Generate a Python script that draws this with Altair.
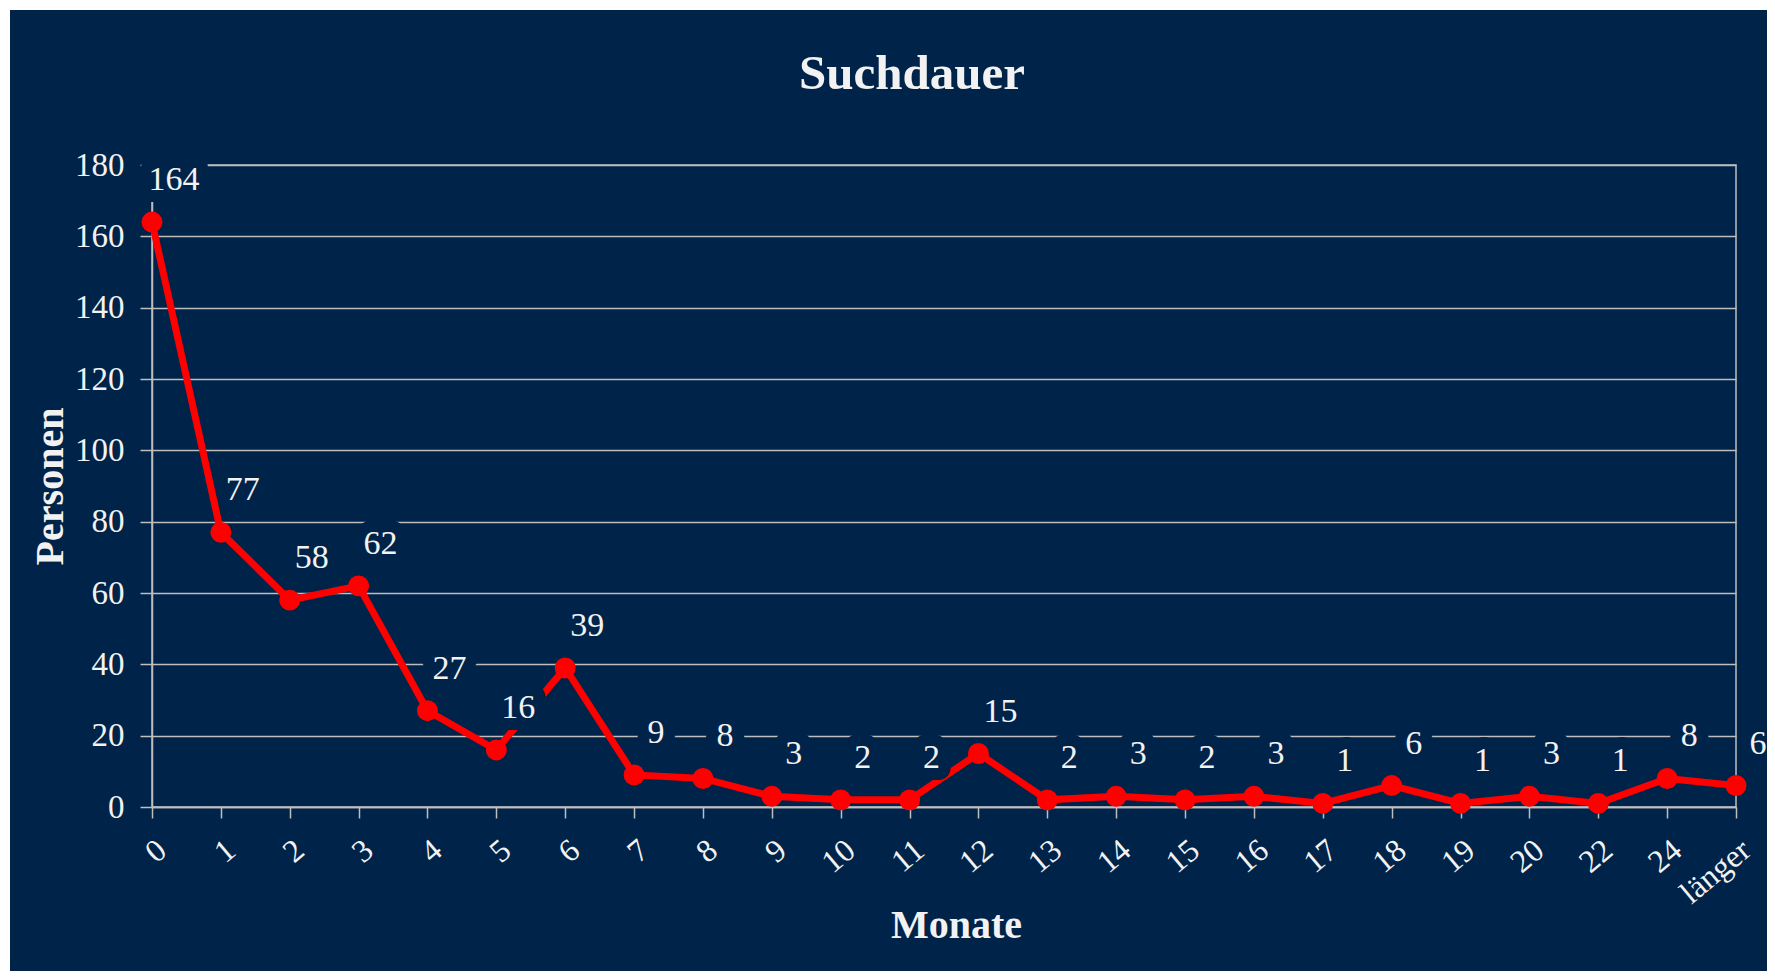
import altair as alt
import pandas as pd

title_text = "Suchdauer"
months = ["0", "1", "2", "3", "4", "5", "6", "7", "8", "9", "10", "11", "12",
          "13", "14", "15", "16", "17", "18", "19", "20", "22", "24", "länger"]
persons = [164, 77, 58, 62, 27, 16, 39, 9, 8, 3, 2, 2, 15, 2, 3, 2, 3, 1, 6, 1, 3, 1, 8, 6]

df = pd.DataFrame({"Monat": months, "Personen": persons})

NAVY = "#002349"
GRAY = "#BEBEBE"
RED = "#FF0000"
TEXT = "#F2F2F2"
FONT = "Liberation Serif"

W, H = 1584, 642
PAD = {"left": 144, "top": 157, "right": 31, "bottom": 164}

x_enc = alt.X(
    "Monat:N", sort=months,
    scale=alt.Scale(type="point", padding=0),
    axis=alt.Axis(
        title="Monate", labelAngle=-40, labelAlign="right", labelBaseline="top",
        labelFontSize=32, labelFont=FONT, labelColor=TEXT, labelPadding=16,
        tickSize=11, tickColor=GRAY, tickWidth=1.5, domainColor=GRAY, domainWidth=1.5,
        grid=False, titleFont=FONT, titleFontSize=40, titleFontWeight="bold",
        titleColor=TEXT, titleX=804, titleY=130, titleBaseline="alphabetic",
        titleAlign="center", labelOverlap=False,
    ),
)
y_enc = alt.Y(
    "Personen:Q",
    scale=alt.Scale(domain=[0, 180], nice=False),
    axis=alt.Axis(
        title="Personen", values=list(range(0, 181, 20)), labelFontSize=33,
        labelFont=FONT, labelColor=TEXT, labelPadding=16, tickSize=12,
        tickColor=GRAY, tickWidth=1.5, domainColor=GRAY, domainWidth=1.5,
        grid=True, gridColor=GRAY, gridWidth=1.5, titleFont=FONT, titleFontSize=40,
        titleFontWeight="bold", titleColor=TEXT, titleX=-102, titleY=321,
        titleAngle=-90, titleAlign="center", titleBaseline="middle",
    ),
)

base = alt.Chart(df).encode(x=x_enc, y=y_enc)

line = base.mark_line(color=RED, strokeWidth=7)
points = base.mark_circle(color=RED, size=440, opacity=1)
halo = base.mark_text(
    dx=22, dy=-42, fontSize=34, font=FONT, fill=NAVY, stroke=NAVY,
    strokeWidth=24, strokeJoin="round", align="center", baseline="middle",
).encode(text="Personen:Q")
labels = base.mark_text(
    dx=22, dy=-42, fontSize=34, font=FONT, color=TEXT,
    align="center", baseline="middle",
).encode(text="Personen:Q")

title = alt.Chart(pd.DataFrame({"t": [title_text]})).mark_text(
    font=FONT, fontSize=49, fontWeight="bold", color=TEXT,
    align="center", baseline="alphabetic",
).encode(text="t:N", x=alt.value(760), y=alt.value(-76))

border_top = alt.Chart(df).mark_rule(color="white", strokeWidth=2).encode(
    x=alt.value(-PAD["left"]), x2=alt.value(W + PAD["right"]), y=alt.value(-PAD["top"] + 1)
)
border_left = alt.Chart(df).mark_rule(color="white", strokeWidth=2).encode(
    x=alt.value(-PAD["left"] + 1), y=alt.value(-PAD["top"]), y2=alt.value(H + PAD["bottom"])
)

chart = alt.layer(line, halo, points, labels, title, border_top, border_left).properties(
    width=W, height=H,
    background=NAVY,
    padding=PAD,
    autosize=alt.AutoSizeParams(type="none"),
).configure_view(stroke=GRAY, strokeWidth=1.5)

chart.save("out.html", embed_options={"renderer": "svg", "actions": False})
